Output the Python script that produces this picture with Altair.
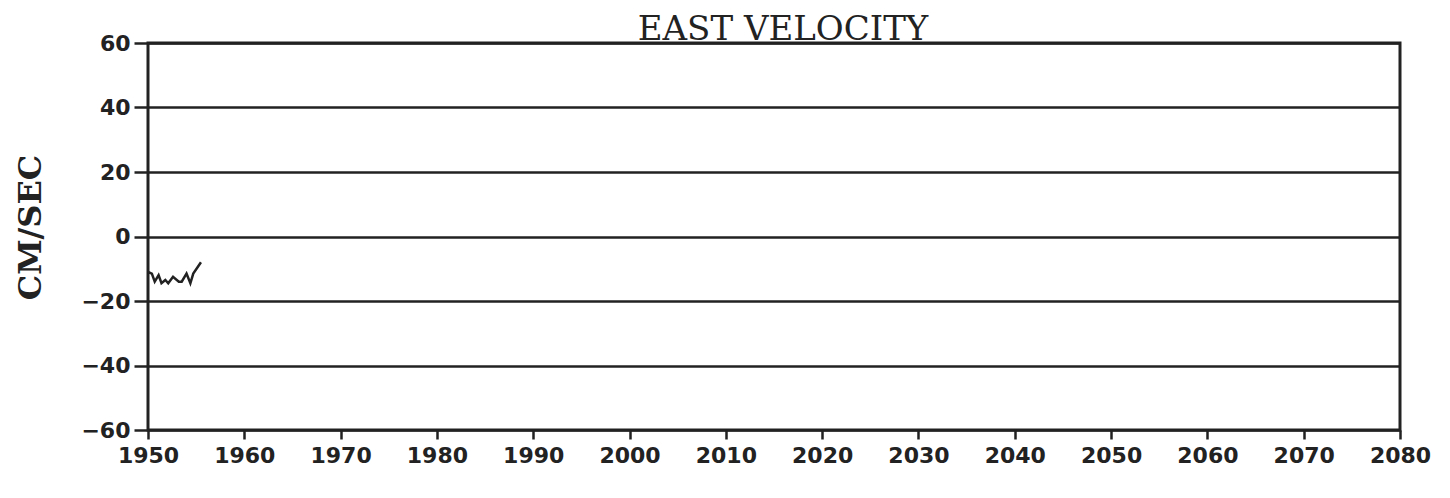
import altair as alt
import pandas as pd

# Approximate readings of the East velocity record (year, cm/sec)
years = [1950.0, 1950.4, 1950.7, 1951.1, 1951.4, 1951.8, 1952.1,
         1952.6, 1953.2, 1953.5, 1954.0, 1954.4, 1954.7, 1955.5]
east_velocity = [-11.0, -11.5, -14.0, -12.0, -14.5, -13.5, -14.5,
                 -12.5, -14.0, -14.0, -11.5, -14.5, -11.5, -8.0]

x_ticks = list(range(1950, 2081, 10))
y_ticks = list(range(-60, 61, 20))

df = pd.DataFrame({"year": years, "u": east_velocity})

chart = alt.Chart(df).mark_line(color="#222", strokeWidth=2.5).encode(
    x=alt.X("year:Q",
            scale=alt.Scale(domain=[1950, 2080], nice=False, zero=False),
            axis=alt.Axis(values=x_ticks, format="d", title=None, grid=False,
                          domain=False, tickColor="#222", tickWidth=2.5,
                          tickSize=9, labelPadding=6, labelFontSize=22,
                          labelFont="DejaVu Sans", labelFontWeight="bold",
                          labelColor="#222", labelFlush=False)),
    y=alt.Y("u:Q",
            scale=alt.Scale(domain=[-60, 60], nice=False, zero=False),
            axis=alt.Axis(values=y_ticks, title="CM/SEC", grid=True,
                          gridColor="#222", gridWidth=2.5, gridOpacity=1,
                          domain=False, tickColor="#222", tickWidth=2.5,
                          tickSize=14, labelPadding=4, labelFontSize=22,
                          labelFont="DejaVu Sans", labelFontWeight="bold",
                          labelColor="#222",
                          titleFont="DejaVu Serif", titleFontSize=32,
                          titleFontWeight="bold", titleColor="#222",
                          titleAngle=-90, titleX=-118, titleY=184,
                          titleAlign="center", titleBaseline="middle")),
).properties(
    width=1252,
    height=387,
    background="white",
    title=alt.TitleParams("EAST VELOCITY", font="DejaVu Serif", fontSize=34,
                          fontWeight="normal", color="#222", offset=-15,
                          dx=9, anchor="middle"),
    autosize=alt.AutoSizeParams(type="none"),
    padding={"left": 140, "top": 35, "right": 40, "bottom": 50},
).configure_view(
    stroke="#222", strokeWidth=3
)

chart.save("out.html", embed_options={"renderer": "svg", "actions": False})
